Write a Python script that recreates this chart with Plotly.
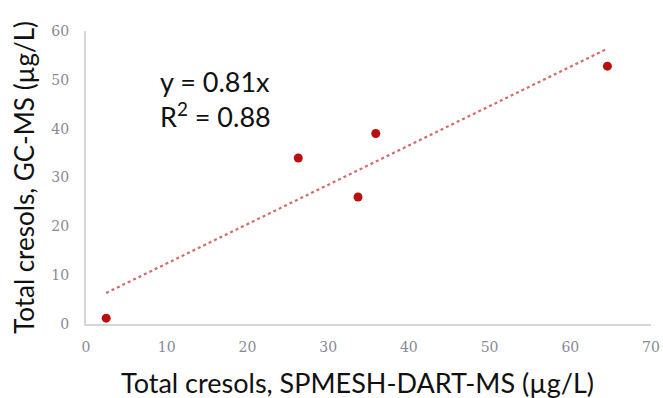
import numpy as np
import plotly.graph_objects as go

# Data
x_dart = [2.5, 26.3, 33.7, 35.9, 64.6]
y_gcms = [1.2, 34.0, 26.0, 39.0, 52.8]
x_ticks = [0, 10, 20, 30, 40, 50, 60, 70]
y_ticks = [0, 10, 20, 30, 40, 50, 60]
x_title = "Total cresols, SPMESH-DART-MS (µg/L)"
y_title = "Total cresols, GC-MS (µg/L)"
eq_line1 = "y = 0.81x"
eq_line2 = "R<sup>2</sup> = 0.88"

slope, intercept = np.polyfit(x_dart, y_gcms, 1)
x_fit = np.array([min(x_dart), max(x_dart)])
y_fit = slope * x_fit + intercept

fig = go.Figure()
fig.add_trace(go.Scatter(x=x_fit, y=y_fit, mode="lines",
                         line=dict(color="#d56a6a", width=2.2, dash="dot"),
                         showlegend=False, hoverinfo="skip"))
fig.add_trace(go.Scatter(x=x_dart, y=y_gcms, mode="markers",
                         marker=dict(color="#b80f0f", size=9),
                         showlegend=False))

tick_font = dict(family="DejaVu Serif", size=14, color="#868a96")

fig.update_xaxes(range=[0, 70], tickvals=x_ticks, ticktext=[str(v) for v in x_ticks],
                 showgrid=False, zeroline=False, showline=True, linecolor="#d6d6d6",
                 linewidth=2, ticks="", tickfont=tick_font, ticklabelstandoff=9,
                 ticklabeloverflow="allow", automargin=False)
fig.update_yaxes(range=[0, 60], tickvals=y_ticks, ticktext=[str(v) for v in y_ticks],
                 showgrid=False, zeroline=False, showline=True, linecolor="#d6d6d6",
                 linewidth=2, ticks="", tickfont=tick_font, ticklabelstandoff=12,
                 automargin=False,
                 title=dict(text=y_title, font=dict(family="Lato", size=26, color="#111111"),
                            standoff=9))

fig.add_annotation(x=0.48, y=-0.2, xref="paper", yref="paper", text=x_title,
                   showarrow=False, xanchor="center", yanchor="middle",
                   font=dict(family="Lato", size=27, color="#111111"))

eq_font = dict(family="Lato", size=27, color="#111111")
fig.add_annotation(x=0.128, y=0.826, xref="paper", yref="paper", text=eq_line1,
                   showarrow=False, xanchor="left", yanchor="middle", font=eq_font)
fig.add_annotation(x=0.128, y=0.713, xref="paper", yref="paper", text=eq_line2,
                   showarrow=False, xanchor="left", yanchor="middle", font=eq_font)

fig.update_layout(width=663, height=398, margin=dict(l=86, r=12, t=31, b=74),
                  plot_bgcolor="white", paper_bgcolor="white")

# remove the default 8px page margin so the figure fills the 663x398 window exactly
fig.write_html("out.html", config={"displayModeBar": False},
               post_script="document.body.style.margin='0px';document.body.style.overflow='hidden';")
